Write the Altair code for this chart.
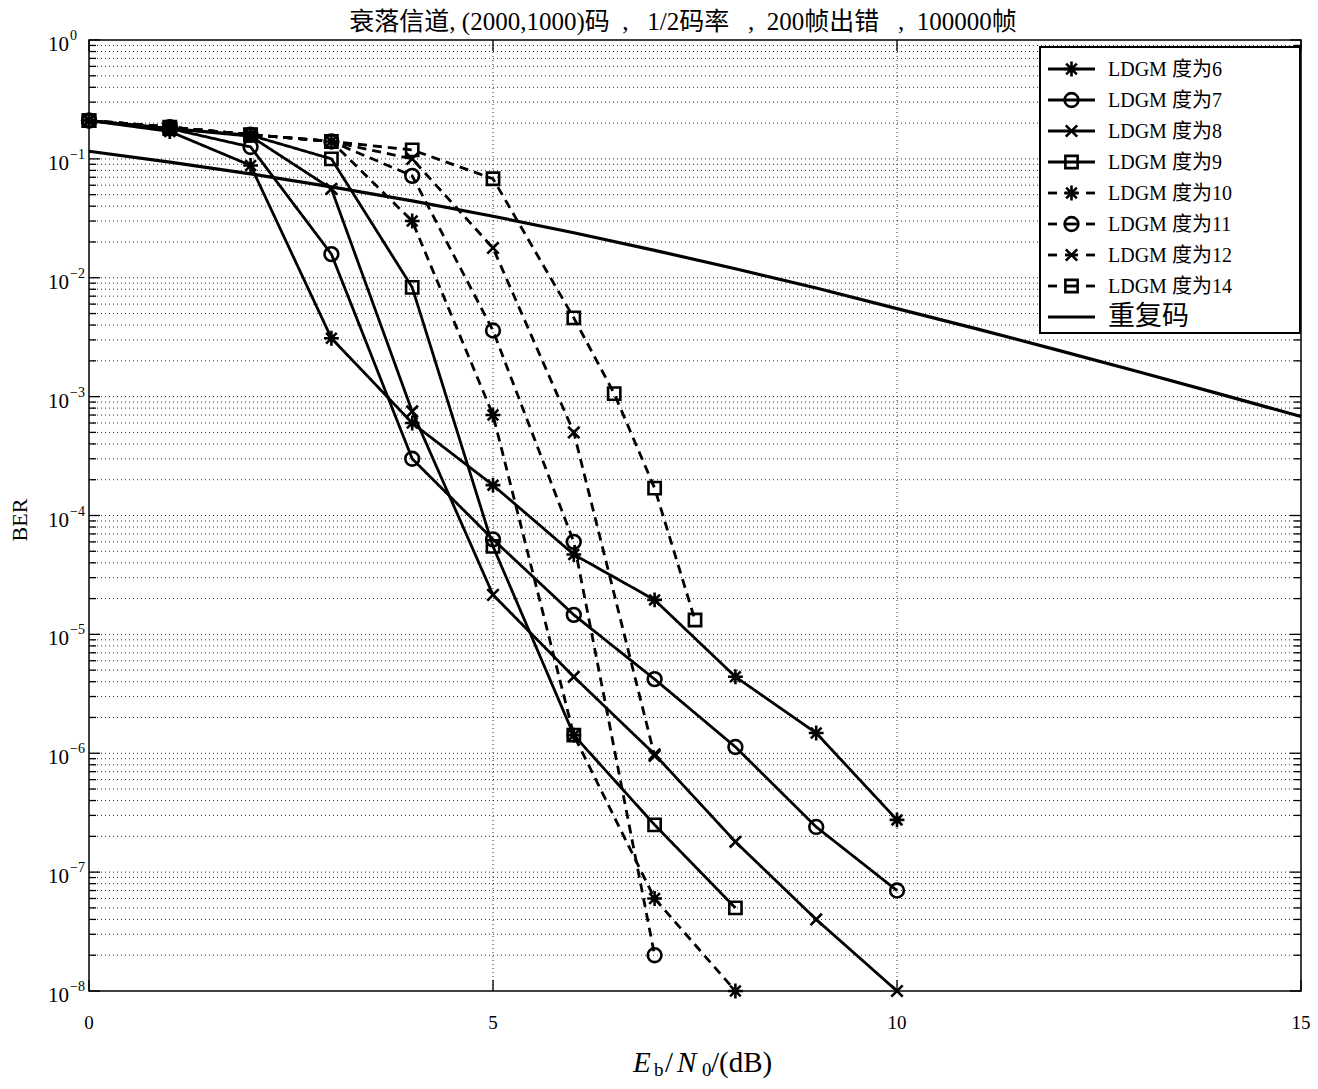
import altair as alt
import pandas as pd

# ---------------- data ----------------
labels = ["LDGM 度为6", "LDGM 度为7", "LDGM 度为8", "LDGM 度为9",
          "LDGM 度为10", "LDGM 度为11", "LDGM 度为12", "LDGM 度为14"]
rep_label = "重复码"

ebn0_deg6 = [0, 1, 2, 3, 4, 5, 6, 7, 8, 9, 10]
ber_deg6 = [0.21, 0.17, 0.088, 3.1e-3, 6.0e-4, 1.8e-4, 4.7e-5, 1.95e-5, 4.4e-6, 1.48e-6, 2.75e-7]
ebn0_deg7 = [0, 1, 2, 3, 4, 5, 6, 7, 8, 9, 10]
ber_deg7 = [0.21, 0.18, 0.126, 0.0158, 3.0e-4, 6.3e-5, 1.46e-5, 4.2e-6, 1.13e-6, 2.4e-7, 7.0e-8]
ebn0_deg8 = [0, 1, 2, 3, 4, 5, 6, 7, 8, 9, 10]
ber_deg8 = [0.21, 0.18, 0.155, 0.056, 7.5e-4, 2.15e-5, 4.4e-6, 9.8e-7, 1.8e-7, 4.0e-8, 1.0e-8]
ebn0_deg9 = [0, 1, 2, 3, 4, 5, 6, 7, 8]
ber_deg9 = [0.21, 0.18, 0.158, 0.1, 8.3e-3, 5.5e-5, 1.42e-6, 2.5e-7, 5.0e-8]
ebn0_deg10 = [0, 1, 2, 3, 4, 5, 6, 7, 8]
ber_deg10 = [0.21, 0.185, 0.16, 0.14, 0.030, 7.0e-4, 1.42e-6, 6.0e-8, 1.0e-8]
ebn0_deg11 = [0, 1, 2, 3, 4, 5, 6, 7]
ber_deg11 = [0.21, 0.185, 0.16, 0.14, 0.072, 3.6e-3, 6.0e-5, 2.0e-8]
ebn0_deg12 = [0, 1, 2, 3, 4, 5, 6, 7]
ber_deg12 = [0.21, 0.185, 0.16, 0.14, 0.100, 0.0178, 5.0e-4, 9.5e-7]
ebn0_deg14 = [0, 1, 2, 3, 4, 5, 6, 6.5, 7, 7.5]
ber_deg14 = [0.21, 0.185, 0.16, 0.14, 0.119, 0.068, 4.6e-3, 1.06e-3, 1.7e-4, 1.32e-5]
ebn0_rep = [0, 1, 2, 3, 4, 5, 6, 7, 8, 9, 10, 11, 12, 13, 14, 15]
ber_rep = [0.116, 0.094, 0.0748, 0.0582, 0.0443, 0.0329, 0.0239, 0.0170, 0.0119,
           0.0082, 0.0055, 0.0037, 0.00245, 0.00161, 0.00105, 0.00068]

x_tick_values = [0, 5, 10, 15]
x_tick_labels = ["0", "5", "10", "15"]
y_major_exponents = [0, -1, -2, -3, -4, -5, -6, -7, -8]

NB = "\u00a0"
title_text = ("衰落信道, (2000,1000)码" + NB * 2 + "," + NB * 3 + "1/2码率" + NB * 3 + ","
              + NB * 2 + "200帧出错" + NB * 3 + "," + NB * 2 + "100000帧")

# ---------------- build tables ----------------
xs_list = [ebn0_deg6, ebn0_deg7, ebn0_deg8, ebn0_deg9, ebn0_deg10, ebn0_deg11, ebn0_deg12, ebn0_deg14]
ys_list = [ber_deg6, ber_deg7, ber_deg8, ber_deg9, ber_deg10, ber_deg11, ber_deg12, ber_deg14]

ASTER = "M-1,0L1,0M0,-1L0,1M-0.72,-0.72L0.72,0.72M-0.72,0.72L0.72,-0.72"
XMARK = "M-1,-1L1,1M-1,1L1,-1"
shape_range = [ASTER, "circle", XMARK, "square", ASTER, "circle", XMARK, "square"]
size_of = {ASTER: 220, "circle": 190, XMARK: 130, "square": 150}
dash_range = [[1, 0]] * 4 + [[9, 6]] * 4

rows = []
for lab, xv, yv in zip(labels, xs_list, ys_list):
    for a, b in zip(xv, yv):
        rows.append({"series": lab, "x": a, "ber": b})
df = pd.DataFrame(rows)
df["msize"] = df["series"].map({l: size_of[s] for l, s in zip(labels, shape_range)})

rep_df = pd.DataFrame({"x": ebn0_rep, "ber": ber_rep})

W, H = 1212, 951
SERIF = "Liberation Serif, Noto Sans CJK SC"
INK = "black"

xs = alt.Scale(domain=[0, 15], nice=False, zero=False)
ys = alt.Scale(type="log", domain=[1e-8, 1], nice=False)
dash_scale = alt.Scale(domain=labels, range=dash_range)
shape_scale = alt.Scale(domain=labels, range=shape_range)

# grid / tick values
major_vals = [10.0 ** e for e in y_major_exponents]
minor_vals = []
for e in range(-8, 0):
    for m in range(2, 10):
        minor_vals.append(m * 10.0 ** e)
hgrid_df = pd.DataFrame({"v": [v for v in major_vals + minor_vals if 1e-8 < v < 1]})
major_df = pd.DataFrame({"v": major_vals,
                         "e": [("−" + str(-e)) if e < 0 else str(e) for e in y_major_exponents]})
minor_df = pd.DataFrame({"v": minor_vals})
xt_df = pd.DataFrame({"v": x_tick_values, "t": x_tick_labels})

grid_style = dict(color="#2a2a2a", strokeWidth=1, strokeDash=[1, 3])

hgrid = alt.Chart(hgrid_df).mark_rule(**grid_style).encode(
    y=alt.Y("v:Q", scale=ys, axis=None), x=alt.value(0), x2=alt.value(W))
vgrid = alt.Chart(pd.DataFrame({"v": [5, 10]})).mark_rule(**grid_style).encode(
    x=alt.X("v:Q", scale=xs, axis=None), y=alt.value(0), y2=alt.value(H))

tick_style = dict(color=INK, strokeWidth=1.3)
ytick_maj_l = alt.Chart(major_df).mark_rule(**tick_style).encode(
    y=alt.Y("v:Q", scale=ys, axis=None), x=alt.value(0), x2=alt.value(11))
ytick_maj_r = alt.Chart(major_df).mark_rule(**tick_style).encode(
    y=alt.Y("v:Q", scale=ys, axis=None), x=alt.value(W - 11), x2=alt.value(W))
ytick_min_l = alt.Chart(minor_df).mark_rule(**tick_style).encode(
    y=alt.Y("v:Q", scale=ys, axis=None), x=alt.value(0), x2=alt.value(7))
ytick_min_r = alt.Chart(minor_df).mark_rule(**tick_style).encode(
    y=alt.Y("v:Q", scale=ys, axis=None), x=alt.value(W - 7), x2=alt.value(W))
xtick_b = alt.Chart(xt_df).mark_rule(**tick_style).encode(
    x=alt.X("v:Q", scale=xs, axis=None), y=alt.value(H - 11), y2=alt.value(H))
xtick_t = alt.Chart(xt_df).mark_rule(**tick_style).encode(
    x=alt.X("v:Q", scale=xs, axis=None), y=alt.value(0), y2=alt.value(11))

rep_line = alt.Chart(rep_df).mark_line(color=INK, strokeWidth=3.2).encode(
    x=alt.X("x:Q", scale=xs, axis=None), y=alt.Y("ber:Q", scale=ys, axis=None))

ldgm_lines = alt.Chart(df).mark_line(color=INK, strokeWidth=2.8).encode(
    x=alt.X("x:Q", scale=xs, axis=None),
    y=alt.Y("ber:Q", scale=ys, axis=None),
    detail="series:N",
    strokeDash=alt.StrokeDash("series:N", scale=dash_scale, legend=None))

ldgm_points = alt.Chart(df).mark_point(color=INK, filled=False, strokeWidth=2.6, opacity=1).encode(
    x=alt.X("x:Q", scale=xs, axis=None),
    y=alt.Y("ber:Q", scale=ys, axis=None),
    shape=alt.Shape("series:N", scale=shape_scale, legend=None),
    size=alt.Size("msize:Q", scale=None, legend=None))

# ---------------- tick labels ----------------
ylab10 = alt.Chart(major_df).mark_text(
    text="10", align="right", baseline="middle", font=SERIF, fontSize=21, dx=-20, dy=5, color=INK
).encode(y=alt.Y("v:Q", scale=ys, axis=None), x=alt.value(0))
ylabexp = alt.Chart(major_df).mark_text(
    align="left", baseline="middle", font=SERIF, fontSize=14, dx=-19, dy=-4, color=INK
).encode(y=alt.Y("v:Q", scale=ys, axis=None), x=alt.value(0), text="e:N")
xlab = alt.Chart(xt_df).mark_text(
    align="center", baseline="middle", font=SERIF, fontSize=19, color=INK
).encode(x=alt.X("v:Q", scale=xs, axis=None), y=alt.value(H + 32), text="t:N")

one = pd.DataFrame({"k": [0]})


def txt(s, x, y, size, align="left", baseline="alphabetic", style="normal", angle=0):
    return alt.Chart(one).mark_text(
        text=s, align=align, baseline=baseline, font=SERIF, fontSize=size,
        fontStyle=style, angle=angle, color=INK
    ).encode(x=alt.value(x), y=alt.value(y))


title = txt(title_text, 594, -18, 25, align="center", baseline="middle")
ylabel = txt("BER", -69, 480, 22, align="center", baseline="middle", angle=270)
xl = [
    txt("E", 544, 1032, 29, style="italic"),
    txt("b", 565, 1036, 19),
    txt("/", 576, 1032, 29),
    txt("N", 588, 1032, 29, style="italic"),
    txt("0", 613, 1036, 19),
    txt("/(dB)", 622, 1032, 29),
]

# ---------------- legend ----------------
LX0, LX1, LY0, LY1 = 951, 1211, 7, 293
leg_box = alt.Chart(one).mark_rect(fill="white", stroke=INK, strokeWidth=2).encode(
    x=alt.value(LX0), x2=alt.value(LX1), y=alt.value(LY0), y2=alt.value(LY1))

seg_rows, pt_rows, txt_rows = [], [], []
all_leg = labels + [rep_label]
for i, lab in enumerate(all_leg):
    yy = 29 + 31 * i
    dashed = lab in labels[4:]
    segs = [(959, 968), (976, 989), (997, 1006)] if dashed else [(959, 1006)]
    for a, b in segs:
        seg_rows.append({"lx": a, "lx2": b, "ly": yy})
    if lab in labels:
        pt_rows.append({"series": lab, "lx": 982.5, "ly": yy,
                        "msize": size_of[shape_range[labels.index(lab)]]})
    txt_rows.append({"label": lab, "tx": 1019, "ly": yy + (0 if lab == rep_label else 1),
                     "fs": 27 if lab == rep_label else 20})
seg_df = pd.DataFrame(seg_rows)
lpt_df = pd.DataFrame(pt_rows)
ltx_df = pd.DataFrame(txt_rows)

leg_lines = alt.Chart(seg_df).mark_rule(color=INK, strokeWidth=2.8).encode(
    x=alt.X("lx:Q", scale=None, axis=None), x2="lx2:Q", y=alt.Y("ly:Q", scale=None, axis=None))
leg_pts = alt.Chart(lpt_df).mark_point(color=INK, filled=False, strokeWidth=2.6, opacity=1).encode(
    x=alt.X("lx:Q", scale=None, axis=None), y=alt.Y("ly:Q", scale=None, axis=None),
    shape=alt.Shape("series:N", scale=shape_scale, legend=None),
    size=alt.Size("msize:Q", scale=None, legend=None))
leg_txt = alt.Chart(ltx_df).mark_text(align="left", baseline="middle", font=SERIF, color=INK).encode(
    x=alt.X("tx:Q", scale=None, axis=None), y=alt.Y("ly:Q", scale=None, axis=None),
    text="label:N", size=alt.Size("fs:Q", scale=None, legend=None))

chart = alt.layer(
    hgrid, vgrid, ytick_maj_l, ytick_maj_r, ytick_min_l, ytick_min_r, xtick_b, xtick_t,
    rep_line, ldgm_lines, ldgm_points,
    leg_box, leg_lines, leg_pts, leg_txt,
    ylab10, ylabexp, xlab, title, ylabel, *xl
).properties(
    width=W, height=H,
    autosize=alt.AutoSizeParams(type="none"),
    padding={"left": 81, "top": 32, "right": 9, "bottom": 90},
    background="white",
).configure_view(stroke=INK, strokeWidth=1.5)

chart.save("out.html", embed_options={"renderer": "svg", "actions": False})
